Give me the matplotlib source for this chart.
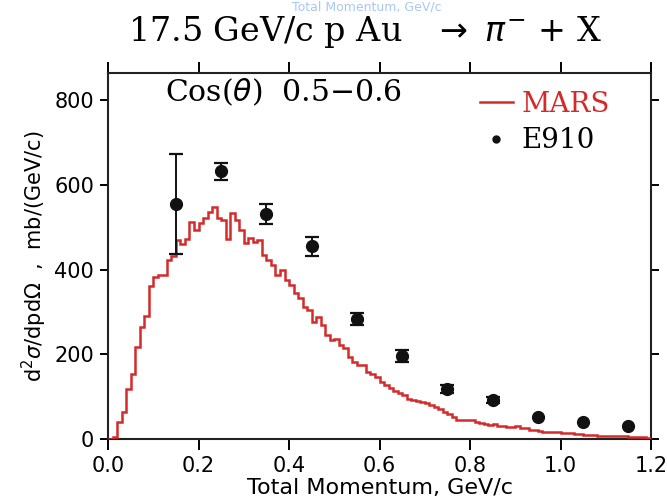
import numpy as np
import matplotlib
matplotlib.use("Agg")
import matplotlib.pyplot as plt
from matplotlib.lines import Line2D

# MARS histogram, 0.01 GeV/c bins from 0.0 to 1.2
mars_edges = np.round(np.arange(0, 1.2001, 0.01), 3)
mars_vals = [
    0, 5, 41, 64, 118, 153, 218, 265, 290, 361,
    383, 387, 387, 422, 432, 470, 460, 472, 512, 493,
    510, 522, 535, 547, 521, 517, 471, 533, 517, 493,
    462, 474, 466, 470, 434, 422, 411, 387, 399, 375,
    363, 344, 332, 312, 304, 277, 287, 269, 245, 234,
    235, 222, 216, 194, 182, 175, 175, 159, 153, 147,
    135, 127, 120, 114, 108, 103, 94, 92, 90, 88,
    86, 80, 75, 70, 64, 59, 53, 46, 46, 45,
    45, 41, 37, 35, 33, 35, 31, 31, 29, 29,
    31, 25, 25, 21, 21, 19, 17, 17, 17, 16,
    15, 15, 13, 12, 11, 10, 9, 9, 8, 8,
    8, 7, 7, 6, 6, 5, 5, 4, 4, 3,
]

# E910 data points (last three have no visible error bars)
e910_p = [0.15, 0.25, 0.35, 0.45, 0.55, 0.65, 0.75, 0.85, 0.95, 1.05, 1.15]
e910_y = [555, 632, 531, 455, 283, 196, 118, 92, 52, 40, 31]
e910_err = [118, 20, 24, 22, 15, 14, 9, 7]

title = r"17.5 GeV/c p Au   $\rightarrow$ $\pi^{-}$ + X"
angle_label = r"Cos($\theta$)  0.5$-$0.6"

fig = plt.figure(figsize=(6.67, 5), dpi=100)
ax = fig.add_axes([0.162, 0.122, 0.814, 0.732])

ax.stairs(mars_vals, mars_edges, color="#d42a2a", lw=1.8, zorder=3)
n = len(e910_err)
ax.errorbar(e910_p[:n], e910_y[:n], yerr=e910_err, fmt="o", color="#111111",
            ms=8.5, capsize=5, elinewidth=1.4, capthick=1.6, zorder=4)
ax.plot(e910_p[n:], e910_y[n:], "o", color="#111111", ms=8.5, zorder=4)

ax.set_xlim(0, 1.2)
ax.set_ylim(0, 864)
ax.set_xticks(np.arange(0, 1.21, 0.2))
ax.set_xticklabels([f"{v:.1f}" for v in np.arange(0, 1.21, 0.2)])
ax.set_yticks([0, 200, 400, 600, 800])

for s in ax.spines.values():
    s.set_linewidth(1.5)
    s.set_color("#222222")
ax.tick_params(axis="both", direction="out", length=8, width=1.4,
               labelsize=15, top=True, right=True, pad=4)
ax.tick_params(axis="y", length=6)

ax.set_xlabel("Total Momentum, GeV/c", fontsize=16, labelpad=2)
ax.set_ylabel(r"d$^2\sigma$/dpd$\Omega$  ,  mb/(GeV/c)", fontsize=15, labelpad=4)

ax.text(0.105, 0.948, angle_label, transform=ax.transAxes, fontsize=21.5,
        family="DejaVu Serif", va="center", ha="left")

handles = [Line2D([], [], color="#d42a2a", lw=1.8),
           Line2D([], [], color="#111111", marker="o", ls="", ms=5)]
leg = ax.legend(handles, ["MARS", "E910"], loc="upper right",
                bbox_to_anchor=(0.97, 1.02), frameon=False,
                prop={"family": "DejaVu Serif", "size": 20},
                handlelength=1.2, handletextpad=0.3, labelspacing=0.35)
leg.get_texts()[0].set_color("#d42a2a")

fig.text(0.547, 0.936, title, fontsize=24, family="DejaVu Serif",
         ha="center", va="center")
fig.text(0.55, 0.998, "Total Momentum, GeV/c", fontsize=9, color="#a8c8f0",
         ha="center", va="top")

fig.savefig("out.png", dpi=100)
